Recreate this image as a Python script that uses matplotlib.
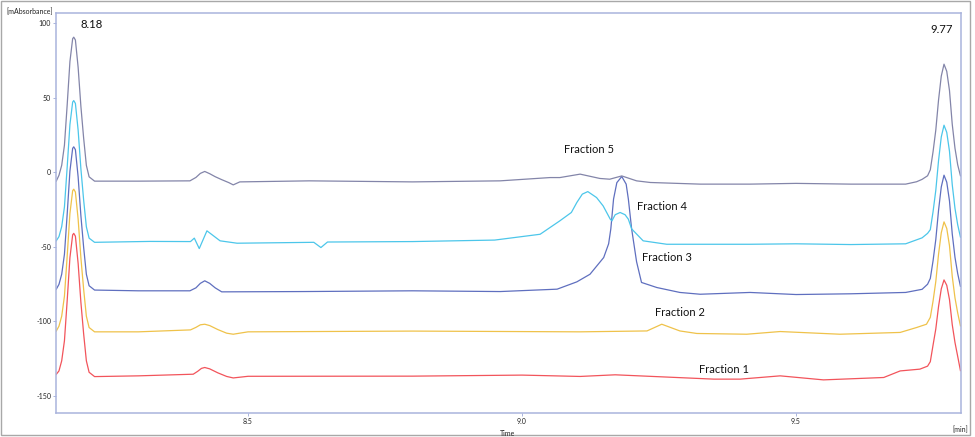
import matplotlib
matplotlib.use("Agg")
import matplotlib.pyplot as plt
from matplotlib.patches import Rectangle

# ---------------- data ----------------
f5_time = [8.150, 8.155, 8.160, 8.165, 8.170, 8.175, 8.180, 8.182, 8.185, 8.190, 8.195, 8.200,
           8.205, 8.210, 8.220, 8.300, 8.394, 8.405, 8.413, 8.421, 8.430, 8.440, 8.452, 8.465,
           8.473, 8.485, 8.612, 8.800, 8.960, 9.051, 9.069, 9.106, 9.142, 9.160, 9.182, 9.209,
           9.234, 9.325, 9.416, 9.500, 9.600, 9.700, 9.720, 9.730,
           9.740, 9.745, 9.750, 9.755, 9.760, 9.765, 9.770, 9.775, 9.780, 9.785, 9.790, 9.795, 9.800]
f5_abs = [-6.0, -2.1, 4.6, 18.1, 45.1, 74.1, 89.5, 90.5, 88.6, 70.2, 44.2, 23.0,
          4.6, -3.1, -6.0, -6.0, -5.8, -3.5, -0.8, 0.5, -1.0, -3.0, -5.0, -7.0,
          -8.5, -6.5, -5.8, -6.5, -5.8, -3.6, -3.6, -1.3, -4.2, -4.7, -2.5, -5.8,
          -6.9, -8.0, -8.0, -7.5, -8.0, -8.0, -6.4, -4.8,
          -2.4, 1.6, 13.7, 28.2, 48.3, 64.4, 72.4, 67.6, 54.7, 32.2, 16.1, 4.9, -2.4]

f4_time = [8.150, 8.155, 8.160, 8.165, 8.170, 8.175, 8.180, 8.182, 8.185, 8.190, 8.195, 8.200,
           8.205, 8.210, 8.220, 8.321, 8.395, 8.402, 8.411, 8.425, 8.449, 8.480, 8.620, 8.633,
           8.645, 8.800, 8.950, 9.033, 9.069, 9.090, 9.100, 9.110, 9.120, 9.136, 9.148, 9.161,
           9.164, 9.170, 9.179, 9.188, 9.194, 9.200, 9.221,
           9.264, 9.416, 9.500, 9.600, 9.700, 9.730, 9.740, 9.745, 9.750, 9.755, 9.760, 9.765,
           9.770, 9.775, 9.780, 9.785, 9.790, 9.795, 9.800]
f4_abs = [-46.0, -43.2, -36.5, -23.3, 3.4, 31.9, 47.0, 48.0, 46.1, 28.1, 2.4, -18.5,
          -36.6, -44.2, -47.0, -46.4, -46.5, -44.2, -51.2, -39.3, -46.0, -47.6, -47.0, -50.5,
          -46.8, -46.5, -45.5, -41.6, -32.6, -27.0, -20.3, -14.7, -13.0, -17.0, -22.6, -31.5,
          -32.6, -28.5, -27.0, -28.5, -31.5, -38.0, -46.0,
          -48.3, -48.3, -48.0, -48.5, -48.0, -44.0, -41.0, -38.5, -26.5, -12.2, 7.7, 23.6,
          31.5, 26.7, 14.0, -8.3, -24.2, -35.3, -43.5]

f3_time = [8.150, 8.155, 8.160, 8.165, 8.170, 8.175, 8.180, 8.182, 8.185, 8.190, 8.195, 8.200,
           8.205, 8.210, 8.220, 8.300, 8.394, 8.405, 8.413, 8.421, 8.430, 8.440, 8.452, 8.600,
           8.800, 8.960, 9.064, 9.100, 9.124, 9.149, 9.158, 9.162, 9.167, 9.173, 9.182, 9.190,
           9.194, 9.200, 9.209, 9.218, 9.246,
           9.288, 9.325, 9.416, 9.500, 9.600, 9.700, 9.730, 9.740, 9.745, 9.750, 9.755, 9.760,
           9.765, 9.770, 9.775, 9.780, 9.785, 9.790, 9.795, 9.800]
f3_abs = [-78.5, -75.2, -68.4, -55.0, -28.1, 0.7, 16.0, 17.0, 15.1, -3.2, -29.1, -50.2,
          -68.4, -76.1, -79.0, -79.5, -79.5, -77.5, -74.5, -72.8, -74.5, -77.5, -80.2, -80.0,
          -79.5, -80.0, -78.4, -73.5, -68.4, -57.2, -48.0, -38.0, -18.0, -7.0, -2.9, -8.0,
          -18.0, -38.0, -60.0, -73.9, -77.3,
          -80.6, -81.8, -80.6, -82.0, -81.5, -80.6, -78.5, -75.1, -71.2, -59.4, -45.2, -25.6,
          -9.9, -2.0, -6.7, -19.3, -41.3, -57.0, -68.0, -76.5]

f2_time = [8.150, 8.155, 8.160, 8.165, 8.170, 8.175, 8.180, 8.182, 8.185, 8.190, 8.195, 8.200,
           8.205, 8.210, 8.220, 8.300, 8.395, 8.405, 8.413, 8.421, 8.430, 8.445, 8.461, 8.473,
           8.500, 8.800, 9.106, 9.228,
           9.255, 9.288, 9.319, 9.410, 9.471, 9.580, 9.690, 9.720, 9.738, 9.745, 9.750, 9.755,
           9.760, 9.765, 9.770, 9.775, 9.780, 9.785, 9.790, 9.795, 9.800]
f2_abs = [-106.5, -103.2, -96.5, -83.1, -56.3, -27.7, -12.4, -11.4, -13.3, -31.5, -57.3, -78.3,
          -96.5, -104.1, -107.0, -107.0, -105.7, -104.0, -102.3, -101.9, -102.8, -105.5, -107.9, -108.6,
          -107.0, -106.5, -107.0, -106.4,
          -101.9, -106.4, -108.1, -108.6, -106.8, -108.6, -107.4, -104.1, -101.9, -97.3, -86.4, -73.3,
          -55.1, -40.6, -33.3, -37.7, -49.3, -69.7, -84.2, -94.4, -103.0]

f1_time = [8.150, 8.155, 8.160, 8.165, 8.170, 8.175, 8.180, 8.182, 8.185, 8.190, 8.195, 8.200,
           8.205, 8.210, 8.220, 8.300, 8.400, 8.408, 8.415, 8.421, 8.430, 8.445, 8.461, 8.473,
           8.500, 8.800, 9.000, 9.106,
           9.170, 9.350, 9.398, 9.471, 9.550, 9.660, 9.690, 9.726, 9.740, 9.745, 9.750, 9.755,
           9.760, 9.765, 9.770, 9.775, 9.780, 9.785, 9.790, 9.795, 9.800]
f1_abs = [-135.5, -133.2, -126.4, -113.0, -86.1, -57.3, -42.0, -41.0, -42.9, -61.2, -87.1, -108.2,
          -126.4, -134.1, -137.0, -136.5, -135.4, -133.5, -131.5, -130.9, -131.8, -134.5, -136.9, -137.9,
          -136.8, -136.7, -136.0, -136.9,
          -135.8, -138.7, -138.7, -136.5, -139.2, -137.6, -133.2, -132.0, -130.0, -127.0, -115.9, -105.1,
          -90.1, -78.2, -72.2, -75.8, -85.4, -102.1, -114.1, -123.5, -133.0]

series_names = ["Fraction 1", "Fraction 2", "Fraction 3", "Fraction 4", "Fraction 5"]
series_colors = ["#f2545b", "#efc24a", "#5f6fbf", "#4cc6ea", "#8385a9"]

peak_labels = ["8.18", "9.77"]
peak_label_pos = [(8.2153, 99.0), (9.7655, 95.5)]
fraction_label_pos = [(9.368, -132.0), (9.289, -93.8), (9.265, -57.0), (9.255, -22.8), (9.123, 15.4)]

y_ticks = [100, 50, 0, -50, -100, -150]
y_tick_labels = ["100", "50", "0", "-50", "-100", "-150"]
x_ticks = [8.5, 9.0, 9.5]
x_tick_labels = ["8.5", "9.0", "9.5"]

# ---------------- figure ----------------
plt.rcParams['font.family'] = ['Lato', 'DejaVu Sans']
W, H = 975, 437
fig = plt.figure(figsize=(W / 100, H / 100), dpi=100)
ax = fig.add_axes([56 / W, 1 - 413 / H, (961 - 56) / W, (413 - 13) / H])

spine_col = "#aab4dc"
times = [f1_time, f2_time, f3_time, f4_time, f5_time]
values = [f1_abs, f2_abs, f3_abs, f4_abs, f5_abs]
for t, v, c in zip(times, values, series_colors):
    ax.plot(t, v, color=c, lw=0.9, solid_joinstyle="round", clip_on=True)

ax.set_xlim(8.1496, 9.801)
ax.set_ylim(-161.4, 106.7)

ax.set_yticks(y_ticks)
ax.set_yticklabels(y_tick_labels)
ax.set_xticks(x_ticks)
ax.set_xticklabels(x_tick_labels)
ax.tick_params(axis="both", labelsize=5, length=2.5, width=0.7,
               direction="out", pad=1.0, color=spine_col, labelcolor="#222222")

for s in ax.spines.values():
    s.set_color(spine_col)
    s.set_linewidth(1.1)

for txt, (x, y) in zip(peak_labels, peak_label_pos):
    ax.text(x, y, txt, fontsize=8.2, ha="center", va="center", color="#111111")
for txt, (x, y) in zip(series_names, fraction_label_pos):
    ax.text(x, y, txt, fontsize=8.0, ha="center", va="center", color="#111111")

fig.text(30 / W, 1 - 12 / H, "[mAbsorbance]", fontsize=5, ha="center", va="center", color="#222222")
fig.text(508 / W, 1 - 433 / H, "Time", fontsize=5, ha="center", va="center", color="#222222")
fig.text(968 / W, 1 - 430 / H, "[min]", fontsize=5, ha="right", va="center", color="#222222")

# outer grey frame of the original screenshot
fig.patches.append(Rectangle((0.5 / W, 2 / H), 969.5 / W, (H - 2.5) / H, transform=fig.transFigure,
                             fill=False, edgecolor="#a8a8a8", lw=1.0))

fig.savefig("out.png", dpi=100)
